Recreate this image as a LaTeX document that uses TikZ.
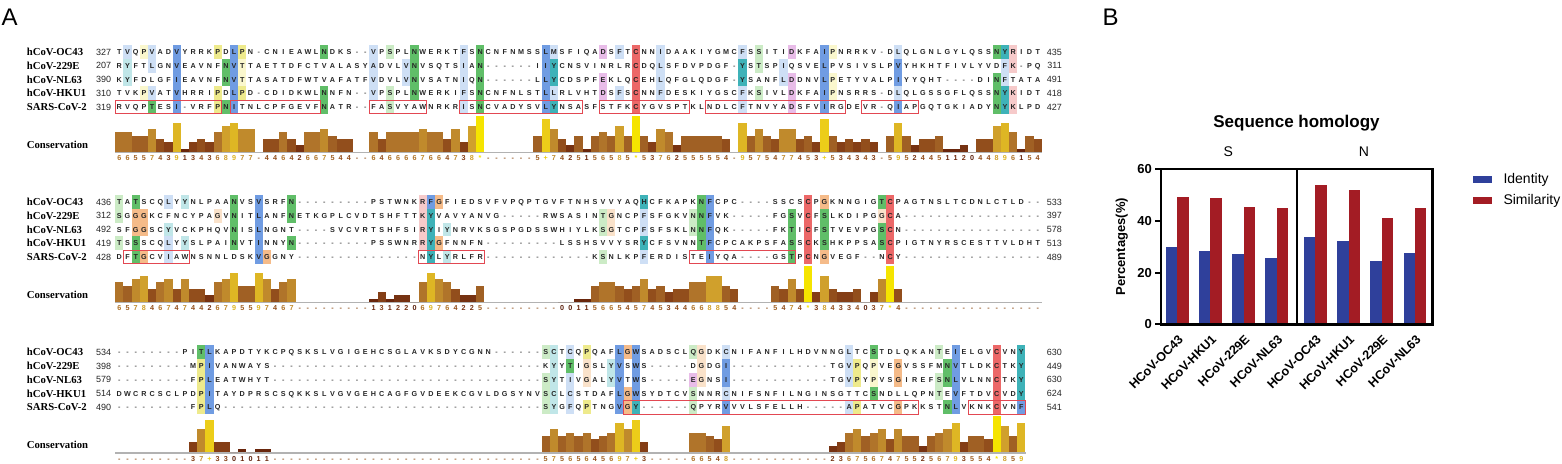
\documentclass[tikz,border=0pt]{standalone}
\usepackage{fontspec}
\setmainfont{Liberation Serif}
\newfontfamily\sansf{Liberation Sans}
\definecolor{hB}{RGB}{112,156,226}
\definecolor{hb}{RGB}{206,223,245}
\definecolor{hC}{RGB}{62,178,184}
\definecolor{hc}{RGB}{192,230,232}
\definecolor{hG}{RGB}{96,190,104}
\definecolor{hg}{RGB}{204,235,198}
\definecolor{hY}{RGB}{238,234,140}
\definecolor{hy}{RGB}{250,247,205}
\definecolor{hO}{RGB}{245,187,137}
\definecolor{ho}{RGB}{250,226,202}
\definecolor{hR}{RGB}{236,104,104}
\definecolor{hp}{RGB}{246,202,202}
\definecolor{hm}{RGB}{232,188,232}
\definecolor{boxred}{RGB}{226,72,82}
\definecolor{cons0}{RGB}{90,30,10}
\definecolor{cons1}{RGB}{105,38,12}
\definecolor{cons2}{RGB}{118,50,18}
\definecolor{cons3}{RGB}{132,62,22}
\definecolor{cons4}{RGB}{146,78,28}
\definecolor{cons5}{RGB}{160,96,36}
\definecolor{cons6}{RGB}{176,116,42}
\definecolor{cons7}{RGB}{192,138,44}
\definecolor{cons8}{RGB}{208,160,44}
\definecolor{cons9}{RGB}{222,182,36}
\definecolor{cons10}{RGB}{236,205,25}
\definecolor{cons11}{RGB}{245,228,0}
\definecolor{consdash}{RGB}{150,90,40}
\definecolor{idblue}{RGB}{47,64,155}
\definecolor{simred}{RGB}{163,28,36}

\newcount\colidx
\newcount\gcnt
\def\gapchar{-}\def\plusch{+}\def\starch{*}
\def\dashes#1{\ifnum#1>0 -\expandafter\dashes\expandafter{\the\numexpr#1-1\relax}\fi}
\newcommand\settop[1]{\edef\btop{\ifcase#1\or51.8\or201.8\or352\fi}}

\def\seqscan#1{\ifx\relax#1\let\seqnext\relax\else\def\curch{#1}\let\seqnext\seqdo\fi\seqnext}
\def\seqdo{\advance\colidx by 1\relax\global\advance\gcnt by 1\relax
  \pgfmathsetmacro\cx{119.3+(\the\colidx-1)*8.2}%
  \ifx\curch\gapchar
    \node[gapch] (q\the\gcnt) at (\cx,\cy) {-};%
  \else
    \node[resch] (q\the\gcnt) at (\cx,\cy) {\curch};%
  \fi
  \seqscan}
\newcommand\putseq[2]{\edef\rowy{#1}\pgfmathsetmacro\cy{\rowy+2.6}\colidx=0 \edef\tmpstr{#2}\expandafter\seqscan\tmpstr\relax}

\newcommand\rowline[6]{%
  \settop{#1}%
  \pgfmathsetmacro\ry{\btop+(#2-1)*13.8}%
  \node[namef] (nm#1#2) at (26.7,{\ry+3.6}) {#3};
  \node[numf] (ln#1#2) at (96,{\ry+3.2}) {#4};
  \node[rnumf] (rn#1#2) at (1062,{\ry+3.2}) {#5};
  \putseq{\ry}{#6}}

\def\consscan#1{\ifx\relax#1\let\seqnext\relax\else\def\curch{#1}\let\seqnext\consdo\fi\seqnext}
\def\consdo{\advance\colidx by 1\relax\global\advance\gcnt by 1\relax
  \pgfmathsetmacro\cx{119.3+(\the\colidx-1)*8.2}%
  \ifx\curch\gapchar
    \node[consdig,text=consdash] (q\the\gcnt) at (\cx,\cdy) {-};%
  \else
    \ifx\curch\plusch\def\cv{10}\else\ifx\curch\starch\def\cv{11}\else\edef\cv{\curch}\fi\fi
    \edef\cc{cons\cv}%
    \fill[fill=\cc] ({\cx-4.1},\cbase) rectangle ({\cx+4.1},{\cbase-\cv*3.25});
    \node[consdig,text=\cc] (q\the\gcnt) at (\cx,\cdy) {\curch};%
  \fi
  \consscan}
\newcommand\conline[3]{%
  \settop{#1}%
  \pgfmathsetmacro\cbase{\btop+100}%
  \pgfmathsetmacro\cdy{\btop+109}%
  \node[namef] (cl#1) at (26.7,{\btop+96.8}) {Conservation};
  \draw[basel] (115,{\cbase+0.8}) -- (#2,{\cbase+0.8});
  \colidx=0 \edef\tmpstr{#3}\expandafter\consscan\tmpstr\relax}

\newcommand\hl[4]{\settop{#1}\foreach \rr in {#3}{\fill[#4] ({115.2+(#2-1)*8.2},{\btop+(\rr-1)*13.8-6.9}) rectangle ++(8.2,13.8);}}
\newcommand\redbox[3]{\settop{#1}\draw[redbx] ({115.2+(#2-1)*8.2},{\btop+4*13.8-6.9}) rectangle ({115.2+#3*8.2},{\btop+4*13.8+6.9});}

\begin{document}
\begin{tikzpicture}[x=1pt,y=-1pt,
  resch/.style={font=\sansf\bfseries\fontsize{7.2}{8}\selectfont, anchor=base, inner sep=0pt, text=black!85},
  gapch/.style={font=\sansf\bfseries\fontsize{7.2}{8}\selectfont, anchor=base, inner sep=0pt, text=black!65},
  namef/.style={font=\bfseries\fontsize{10.7}{12}\selectfont, anchor=base west, inner sep=0pt},
  numf/.style={font=\sansf\fontsize{9}{10}\selectfont, anchor=base west, inner sep=0pt, text=black!85},
  rnumf/.style={numf, anchor=base east},
  consdig/.style={font=\sansf\bfseries\fontsize{7.2}{8}\selectfont, anchor=base, inner sep=0pt},
  redbx/.style={draw=boxred, line width=0.9pt},
  basel/.style={draw=black!30, line width=1.5pt},
  panel/.style={font=\sansf\fontsize{24}{28}\selectfont, anchor=base west, inner sep=0pt},
  ttl/.style={font=\sansf\bfseries\fontsize{17}{20}\selectfont, inner sep=0pt},
  grp/.style={font=\sansf\fontsize{14}{16}\selectfont, inner sep=0pt},
  xlab/.style={font=\sansf\bfseries\fontsize{12.5}{14}\selectfont, rotate=45, anchor=east, inner sep=0pt},
  ytk/.style={font=\sansf\bfseries\fontsize{13}{15}\selectfont, anchor=east, inner sep=0pt},
  ylab/.style={font=\sansf\bfseries\fontsize{13}{15}\selectfont, rotate=90, inner sep=0pt},
  leg/.style={font=\sansf\fontsize{14}{16}\selectfont, anchor=west, inner sep=0pt}
]
\useasboundingbox (0,0) rectangle (1562,463);
\fill[white] (0,0) rectangle (1562,463);

\node[panel] (pA) at (1.5,25) {A};
\node[panel] (pB) at (1102.5,25) {B};

% ---------------- highlights block 1
\hl{1}{2}{1}{hb}\hl{1}{2}{2,3}{hc}
\hl{1}{4}{1,4}{hy}
\hl{1}{5}{1,2,4}{hb}\hl{1}{5}{5}{hG}
\hl{1}{8}{1,2,3,4,5}{hB}
\hl{1}{13}{1,4,5}{hY}
\hl{1}{14}{2,3,5}{hG}
\hl{1}{15}{1,2,3,4,5}{hB}
\hl{1}{16}{1,4}{hY}\hl{1}{16}{2,3}{hy}
\hl{1}{26}{1,4,5}{hG}
\hl{1}{32}{1,2,3,4}{hb}
\hl{1}{34}{1,4,5}{hg}
\hl{1}{36}{2,3}{hb}
\hl{1}{37}{1,2,3,4}{hG}
\hl{1}{43}{1,2,3,4,5}{hb}
\hl{1}{45}{1,2,3,4,5}{hG}
\hl{1}{53}{1,2,3,4,5}{hB}
\hl{1}{54}{1,4}{hb}\hl{1}{54}{2,3,5}{hC}
\hl{1}{60}{1,3,4}{hm}
\hl{1}{62}{1,4}{hb}
\hl{1}{64}{1,2,3,4,5}{hR}
\hl{1}{67}{1,2,3,4}{hb}
\hl{1}{77}{1,4,5}{hb}\hl{1}{77}{2,3}{hC}
\hl{1}{79}{1,2,4}{hg}
\hl{1}{82}{2,3}{hb}
\hl{1}{83}{1,3,4,5}{hm}
\hl{1}{87}{1,2,3,4,5}{hB}
\hl{1}{88}{1,3,4}{hy}
\hl{1}{96}{1,4}{hb}\hl{1}{96}{2,3,5}{hB}
\hl{1}{108}{1,3,4,5}{hG}
\hl{1}{109}{1,4,5}{hC}\hl{1}{109}{2,3}{hb}
\hl{1}{110}{1,2,4,5}{hp}
% ---------------- highlights block 2
\hl{2}{1}{1,2,4}{hg}
\hl{2}{3}{1,4,5}{hG}\hl{2}{3}{2,3}{hO}
\hl{2}{4}{2,3,5}{hO}
\hl{2}{7}{1,4,5}{hb}\hl{2}{7}{3}{hc}
\hl{2}{9}{1,4}{hc}
\hl{2}{13}{2}{ho}
\hl{2}{15}{1,2,3,4}{hG}
\hl{2}{18}{1,2,3,4,5}{hB}
\hl{2}{19}{5}{hO}
\hl{2}{22}{1,2,4}{hG}
\hl{2}{38}{1,2,3,4}{hp}
\hl{2}{39}{1}{hB}\hl{2}{39}{2,3,4,5}{hC}
\hl{2}{40}{1,4}{hO}
\hl{2}{41}{3,5}{hc}
\hl{2}{60}{2,3,5}{hg}
\hl{2}{61}{2,3}{ho}
\hl{2}{65}{1,4}{hC}\hl{2}{65}{2,3,5}{hb}
\hl{2}{71}{2,3}{hg}
\hl{2}{72}{1,2,3,4}{hG}
\hl{2}{73}{1,2,3,4,5}{hB}
\hl{2}{83}{2,3,4,5}{hG}
\hl{2}{85}{1,2,3,4,5}{hR}
\hl{2}{87}{1,5}{hO}\hl{2}{87}{2,3,4}{hG}
\hl{2}{94}{1,3,4}{hG}\hl{2}{94}{2}{ho}
\hl{2}{95}{1,2,3,4,5}{hR}
% ---------------- highlights block 3
\hl{3}{11}{1}{hG}\hl{3}{11}{2,3,4,5}{hY}
\hl{3}{12}{1,2,3,4,5}{hB}
\hl{3}{53}{1,3,4,5}{hg}
\hl{3}{54}{1,2,3,4,5}{hc}
\hl{3}{56}{1,3,4,5}{hb}\hl{3}{56}{2}{hG}
\hl{3}{58}{1,5}{hY}\hl{3}{58}{2,3}{ho}
\hl{3}{61}{2,3}{hc}
\hl{3}{62}{1,2,3,4,5}{hB}
\hl{3}{63}{1,4,5}{hO}
\hl{3}{64}{1,2,3,4}{hB}\hl{3}{64}{5}{hC}
\hl{3}{71}{1,4,5}{hg}\hl{3}{71}{3}{hm}
\hl{3}{72}{1,2,3}{ho}
\hl{3}{75}{1,4}{hb}\hl{3}{75}{2,3,5}{hB}
\hl{3}{90}{1,2,3,5}{hb}
\hl{3}{91}{2,3,5}{hY}
\hl{3}{93}{1,4}{hG}\hl{3}{93}{2,3}{hy}
\hl{3}{96}{2,3,5}{hO}
\hl{3}{101}{1,3,4}{hg}
\hl{3}{102}{2,3,5}{hG}
\hl{3}{103}{1,2,3,4,5}{hB}
\hl{3}{108}{1,2,3,4,5}{hR}
\hl{3}{111}{1,2,3,4}{hC}\hl{3}{111}{5}{hB}

% ---------------- red boxes (SARS-CoV-2 rows)
\redbox{1}{1}{13}\redbox{1}{15}{25}\redbox{1}{32}{38}\redbox{1}{43}{57}
\redbox{1}{60}{70}\redbox{1}{73}{89}\redbox{1}{92}{98}
\redbox{2}{2}{9}\redbox{2}{38}{45}\redbox{2}{71}{83}
\redbox{3}{63}{98}\redbox{3}{105}{111}

% ---------------- block 1
\rowline{1}{1}{hCoV-OC43}{327}{435}{TVQPVADVYRRKPDLPN-CNIEAWLNDKS--VPSPLNWERKTFSNCNFNMSSLMSFIQADSFTCNNIDAAKIYGMCFSSITIDKFAIPNRRKV-DLQLGNLGYLQSSNYRIDT}
\rowline{1}{2}{hCoV-229E}{207}{311}{RYFTLGNVEAVNFNVTTAETTDFCTVALASYADVLVNVSQTSIAN\dashes{6}IIYCNSVINRLRCDQLSFDVPDGF-YSTSPIQSVELPVSIVSLPVYHKHTFIVLYVDFK-PQ}
\rowline{1}{3}{hCoV-NL63}{390}{491}{KYFDLGFIEAVNFNVTTASATDFWTVAFATFVDVLVNVSATNIQN\dashes{6}LLYCDSPFEKLQCEHLQFGLQDGF-YSANFLDDNVLPETYVALPIYYQHT\dashes{4}DINFTATA}
\rowline{1}{4}{hCoV-HKU1}{310}{418}{TVKPVATVHRRIPDLPD-CDIDKWLNNFN--VPSPLNWERKIFSNCNFNLSTLLRLVHTDSFSCNNFDESKIYGSCFKSIVLDKFAIPNSRRS-DLQLGSSGFLQSSNYKIDT}
\rowline{1}{5}{SARS-CoV-2}{319}{427}{RVQPTESI-VRFPNITNLCPFGEVFNATR--FASVYAWNRKRISNCVADYSVLYNSASFSTFKCYGVSPTKLNDLCFTNVYADSFVIRGDEVR-QIAPGQTGKIADYNYKLPD}
\conline{1}{1042}{66557439134368977-44642667544--6466667664738*\dashes{6}5+7425156585*53762555554-9575477453+534343-5952445112044896154}

% ---------------- block 2
\rowline{2}{1}{hCoV-OC43}{436}{533}{TATSCQLYYNLPAANVSVSRFN\dashes{9}PSTWNKRFGFIEDSVFVPQPTGVFTNHSVVYAQHCFKAPKNFCPC\dashes{4}SSCSCPGKNNGIGTCPAGTNSLTCDNLCTLD--}
\rowline{2}{2}{hCoV-229E}{312}{397}{SGGGKCFNCYPAGVNITLANFNETKGPLCVDTSHFTTKYVAVYANVG\dashes{5}RWSASINTGNCPFSFGKVNNFVK\dashes{5}FGSVCFSLKDIPGGCA\dashes{17}}
\rowline{2}{3}{hCoV-NL63}{492}{578}{SFGGSCYVCKPHQVNISLNGNT\dashes{4}SVCVRTSHFSIRYIYNRVKSGSPGDSSWHIYLKSGTCPFSFSKLNNFQK\dashes{5}FKTICFSTVEVPGSCN\dashes{17}}
\rowline{2}{4}{hCoV-HKU1}{419}{513}{TSSSCQLYYSLPAINVTINNYN\dashes{9}PSSWNRRYGFNNFN\dashes{9}LSSHSVVYSRYCFSVNNTFCPCAKPSFASSCKSHKPPSASCPIGTNYRSCESTTVLDHT}
\rowline{2}{5}{SARS-CoV-2}{428}{489}{DFTGCVIAWNSNNLDSKVGGNY\dashes{15}NYLYRLFR\dashes{13}KSNLKPFERDISTEIYQA\dashes{4}GSTPCNGVEGF--NCY\dashes{17}}
\conline{2}{1042}{6578467474426795597467\dashes{9}13122069764225\dashes{9}0011566545745344668854\dashes{4}5474*384334037*4\dashes{17}}

% ---------------- block 3
\rowline{3}{1}{hCoV-OC43}{534}{630}{\dashes{8}PITLKAPDTYKCPQSKSLVGIGEHCSGLAVKSDYCGNN\dashes{6}SCTCQPQAFLGWSADSCLQGDKCNIFANFILHDVNNGLTCSTDLQKANTEIELGVCVNY}
\rowline{3}{2}{hCoV-229E}{398}{449}{\dashes{9}MPIVANWAYS\dashes{33}KYYTIGSLYVSWS\dashes{5}DGDGI\dashes{12}TGVPQPVEGVSSFMNVTLDKCTKY}
\rowline{3}{3}{hCoV-NL63}{579}{630}{\dashes{9}FPLEATWHYT\dashes{33}SYTIVGALYVTWS\dashes{5}EGNSI\dashes{12}TGVPYPVSGIREFSNLVLNNCTKY}
\rowline{3}{4}{hCoV-HKU1}{514}{624}{DWCRCSCLPDPITAYDPRSCSQKKSLVGVGEHCAGFGVDEEKCGVLDGSYNVSCLCSTDAFLGWSYDTCVSNNRCNIFSNFILNGINSGTTCSNDLLQPNTEVFTDVCVDY}
\rowline{3}{5}{SARS-CoV-2}{490}{541}{\dashes{9}FPLQ\dashes{39}SYGFQPTNGVGY\dashes{6}QPYRVVVLSFELLH\dashes{5}APATVCGPKKSTNLVKNKCVNF}
\conline{3}{1026}{\dashes{9}37+3301011\dashes{33}57565645697+3\dashes{5}66548\dashes{12}23675674755256793554*859}

% ---------------- panel B
\node[ttl] (title) at (1296.5,122.7) {Sequence homology};
\node[grp] (gS) at (1228.3,151.7) {S};
\node[grp] (gN) at (1364,151.7) {N};
\foreach \gx/\bv/\rv/\lab [count=\i] in {1166/29.9/49.1/HCoV-OC43, 1199.1/28.4/48.7/HCoV-HKU1, 1232.3/27.2/45.2/HCoV-229E, 1265.4/25.7/45.1/HCoV-NL63, 1304/33.6/53.9/HCoV-OC43, 1337.2/32.1/52.0/HCoV-HKU1, 1370.4/24.6/41.0/HCoV-229E, 1403.6/27.4/44.9/HCoV-NL63}{
  \fill[idblue] (\gx,324.3) rectangle ({\gx+11.3},{324.3-\bv*2.588});
  \fill[simred] ({\gx+11.3},324.3) rectangle ({\gx+22.6},{324.3-\rv*2.588});
  \node[xlab] (xl\i) at ({\gx+15},337) {\lab};
}
\draw[line width=2.7pt] (1161,169) rectangle (1432.3,324.3);
\draw[line width=2pt] (1296.7,169) -- (1296.7,324.3);
\foreach \v in {0,20,40,60}{
  \draw[line width=2pt] (1155,{324.3-\v*2.588}) -- (1161,{324.3-\v*2.588});
  \node[ytk] (yt\v) at (1152,{324.3-\v*2.588}) {\v};
}
\node[ylab] (yl) at (1121.7,246.7) {Percentages(\%)};
\fill[idblue] (1472.7,175.7) rectangle (1492.3,183.3);
\fill[simred] (1472.7,196.7) rectangle (1492.3,204.3);
\node[leg] (lg1) at (1503.3,180) {Identity};
\node[leg] (lg2) at (1503.3,200.7) {Similarity};
\end{tikzpicture}
\end{document}
